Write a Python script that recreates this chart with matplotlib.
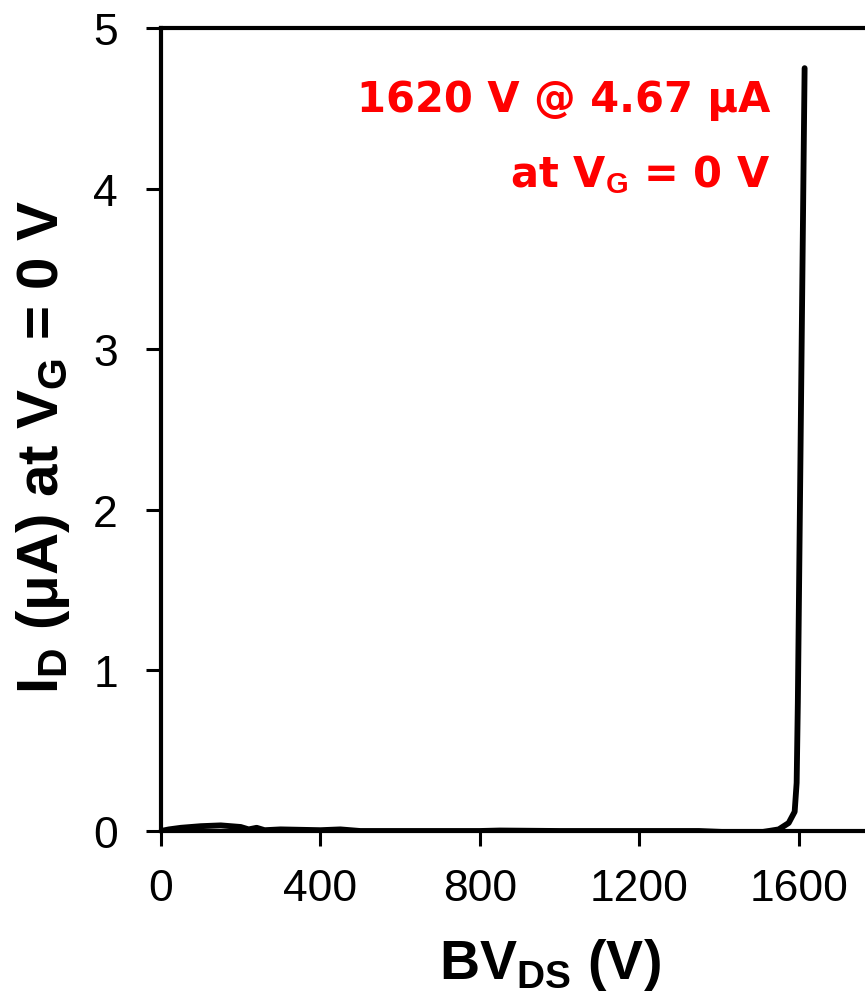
import matplotlib
matplotlib.use("Agg")
import matplotlib.pyplot as plt

plt.rcParams['font.family'] = ['Liberation Sans', 'DejaVu Sans']
plt.rcParams['mathtext.fontset'] = 'custom'
plt.rcParams['mathtext.rm'] = 'Liberation Sans'
plt.rcParams['mathtext.bf'] = 'Liberation Sans:bold'

# BV_DS sweep (V) and drain current (uA)
bv_ds = [0, 20, 50, 100, 150, 200, 220, 240, 260, 300, 400, 450, 500, 800,
         850, 1000, 1200, 1350, 1400, 1450, 1500, 1550, 1575, 1590, 1595,
         1598, 1601, 1604, 1607, 1610, 1613, 1615]
i_d = [0.0, 0.01, 0.02, 0.03, 0.035, 0.025, 0.01, 0.02, 0.005, 0.01, 0.005,
       0.01, 0.0, 0.0, 0.003, 0.0, 0.0, 0.0, -0.005, -0.01, -0.01, 0.01,
       0.05, 0.12, 0.3, 0.8, 1.5, 2.2, 2.9, 3.6, 4.3, 4.75]

x_ticks = [0, 400, 800, 1200, 1600]
y_ticks = [0, 1, 2, 3, 4, 5]

fig = plt.figure(figsize=(8.65, 9.95), dpi=100)
# axes runs past the right edge of the figure, like the cropped original
x_right = 163 + 1950 * 159 / 400
ax_w = x_right - 161
ax = fig.add_axes([161 / 865, 163 / 995, ax_w / 865, (832 - 29) / 995])

ax.plot(bv_ds, i_d, color='black', lw=4.2, solid_capstyle='round')

ax.set_xlim(0, 1950)
ax.set_ylim(0, 5)
ax.set_xticks(x_ticks)
ax.set_yticks(y_ticks)
ax.tick_params(axis='both', direction='out', length=11, width=2.2,
               labelsize=32)
ax.tick_params(axis='x', pad=16)
ax.tick_params(axis='y', pad=20)
for s in ax.spines.values():
    s.set_linewidth(3)

ax.set_xlabel(r'BV$_\mathbf{DS}$ (V)', fontsize=40, fontweight='bold', labelpad=19)
ax.set_ylabel(r'I$_\mathbf{D}$ (μA) at V$_\mathbf{G}$ = 0 V', fontsize=42,
              fontweight='bold')
ax.yaxis.set_label_coords((72 - 161) / ax_w, (832 - 447) / 803)

ax.text(770 / 865, 1 - 100 / 995, '1620 V @ 4.67 μA', transform=fig.transFigure,
        color='red', fontsize=30, fontweight='bold', family='DejaVu Sans',
        ha='right', va='center')
ax.text(770 / 865, 1 - 175 / 995, r'at V$_\mathbf{G}$ = 0 V', transform=fig.transFigure,
        color='red', fontsize=30, fontweight='bold', family='DejaVu Sans',
        ha='right', va='center')

fig.savefig('out.png', dpi=100)
